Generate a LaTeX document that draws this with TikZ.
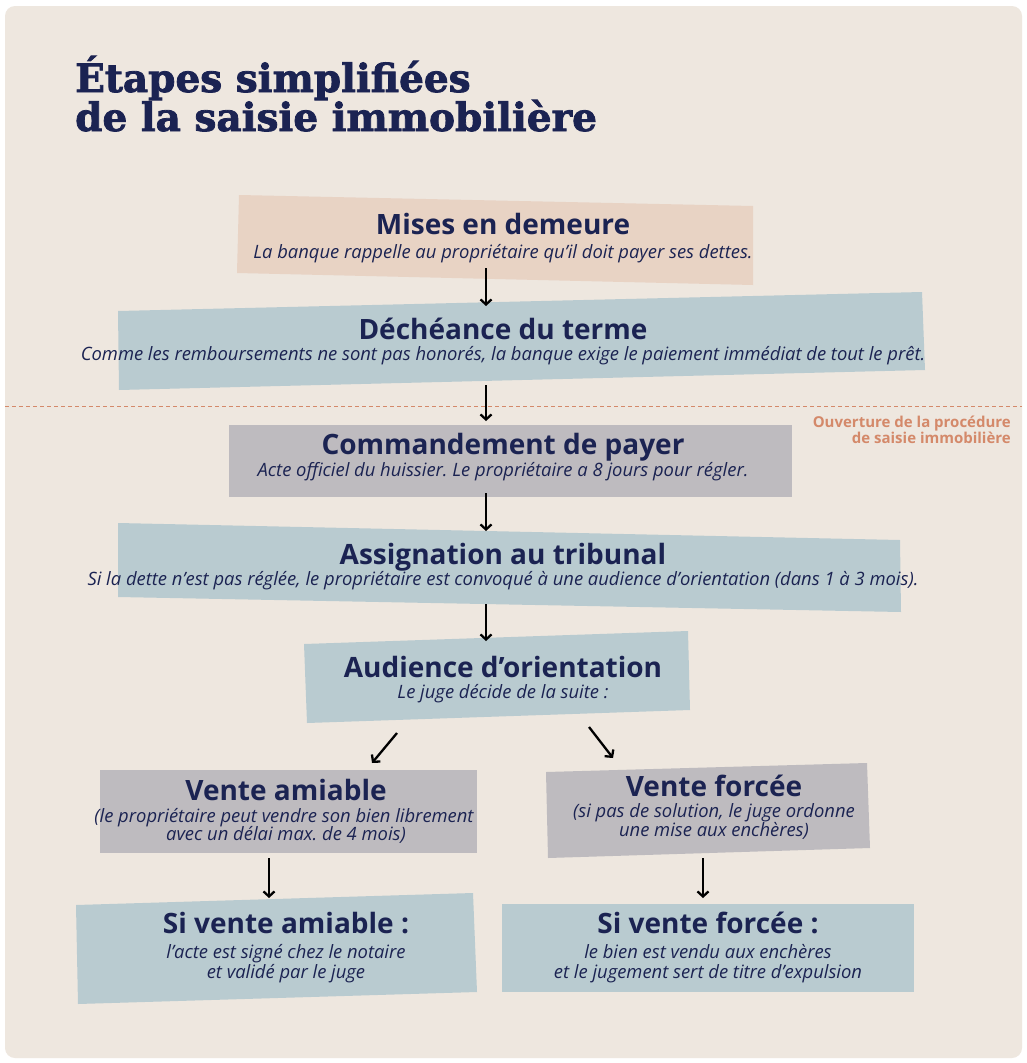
\documentclass[tikz,border=0pt]{standalone}
\usepackage{fontspec}
\setmainfont{Open Sans}
\newfontfamily\titlefont[FakeBold=2]{DejaVu Serif}
\usetikzlibrary{arrows.meta}
\frenchspacing
\definecolor{bgc}{HTML}{EEE7DF}
\definecolor{navy}{HTML}{1B2352}
\definecolor{bluebox}{HTML}{B9CBD0}
\definecolor{pinkbox}{HTML}{E8D3C4}
\definecolor{greybox}{HTML}{BEBBBF}
\definecolor{orng}{HTML}{D4896A}
\tikzset{
  hd/.style={anchor=base, text=navy, font=\bfseries\fontsize{28}{32}\selectfont, inner sep=0pt},
  sb/.style={anchor=base, text=navy, font=\itshape\fontsize{18.4}{22}\selectfont, inner sep=0pt},
  ttl/.style={anchor=base west, text=navy, font=\titlefont\bfseries\fontsize{39}{43}\selectfont, inner sep=0pt},
  arr/.style={draw=black, line width=2.3pt, -{Straight Barb[length=5pt,width=11pt,line width=2.3pt]}},
}
\begin{document}
\begin{tikzpicture}[x=1pt,y=-1pt]
\useasboundingbox (0,0) rectangle (1027,1063);
\fill[white] (0,0) rectangle (1027,1063);
\fill[bgc, rounded corners=10pt] (5,6) rectangle (1022,1058);
% title
\node[ttl] (ti1) at (75,92) {Étapes simplifiées};
\node[ttl] (ti2) at (75,131) {de la saisie immobilière};
% boxes
\fill[pinkbox] (239,195) -- (753,206) -- (753,285) -- (237,273) -- cycle;
\fill[bluebox] (118,311) -- (922,292) -- (925,370) -- (119,390) -- cycle;
\fill[greybox] (229,425) -- (792,425) -- (792,497) -- (229,497) -- cycle;
\fill[bluebox] (118,523) -- (900,540) -- (901,612) -- (118,597) -- cycle;
\fill[bluebox] (304,644) -- (688,631) -- (690,710) -- (307,723) -- cycle;
\fill[greybox] (100,770) -- (477,770) -- (477,853) -- (100,853) -- cycle;
\fill[greybox] (546,772) -- (867,763) -- (870,848) -- (548,858) -- cycle;
\fill[bluebox] (76,905) -- (473,893) -- (477,992) -- (78,1004) -- cycle;
\fill[bluebox] (502,904) -- (914,904) -- (914,992) -- (502,992) -- cycle;
% dashed separator
\coordinate (dl) at (5,406);
\coordinate (dr) at (1022,406);
\draw[orng, line width=0.9pt, dash pattern=on 4pt off 3pt] (dl) -- (dr);
\node[anchor=base east, align=right, text=orng, font=\bfseries\fontsize{15}{16}\selectfont, inner sep=0pt] (ouv) at (1011,443) {Ouverture de la procédure\\de saisie immobilière};
% texts
\node[hd] (t1) at (503,234) {Mises en demeure};
\node[sb] (s1) at (503,258) {La banque rappelle au propriétaire qu’il doit payer ses dettes.};
\node[hd] (t2) at (503,339) {Déchéance du terme};
\node[sb] (s2) at (503,360) {Comme les remboursements ne sont pas honorés, la banque exige le paiement immédiat de tout le prêt.};
\node[hd] (t3) at (503,454) {Commandement de payer};
\node[sb] (s3) at (503,476) {Acte officiel du huissier. Le propriétaire a 8 jours pour régler.};
\node[hd] (t4) at (503,564) {Assignation au tribunal};
\node[sb] (s4) at (503,585) {Si la dette n’est pas réglée, le propriétaire est convoqué à une audience d’orientation (dans 1 à 3 mois).};
\node[hd] (t5) at (503,677) {Audience d’orientation};
\node[sb] (s5) at (503,698) {Le juge décide de la suite :};
\node[hd] (t6) at (286,800) {Vente amiable};
\node[sb] (s6a) at (284,822) {(le propriétaire peut vendre son bien librement};
\node[sb] (s6b) at (286,840) {avec un délai max. de 4 mois)};
\node[hd] (t7) at (714,796) {Vente forcée};
\node[sb] (s7a) at (714,817) {(si pas de solution, le juge ordonne};
\node[sb] (s7b) at (714,836) {une mise aux enchères)};
\node[hd] (t8) at (286,933) {Si vente amiable :};
\node[sb] (s8a) at (286,958) {l’acte est signé chez le notaire};
\node[sb] (s8b) at (286,978) {et validé par le juge};
\node[hd] (t9) at (708,933) {Si vente forcée :};
\node[sb] (s9a) at (708,958) {le bien est vendu aux enchères};
\node[sb] (s9b) at (708,978) {et le jugement sert de titre d’expulsion};
% arrows
\coordinate (a1s) at (486,268); \coordinate (a1e) at (486,306);
\coordinate (a2s) at (486,385); \coordinate (a2e) at (486,421);
\coordinate (a3s) at (486,493); \coordinate (a3e) at (486,531);
\coordinate (a4s) at (486,604); \coordinate (a4e) at (486,641);
\coordinate (a5s) at (397,733); \coordinate (a5e) at (372,763);
\coordinate (a6s) at (589,727); \coordinate (a6e) at (613,758);
\coordinate (a7s) at (269,858); \coordinate (a7e) at (269,898);
\coordinate (a8s) at (703,858); \coordinate (a8e) at (703,898);
\foreach \i in {1,...,8} \draw[arr] (a\i s) -- (a\i e);
\end{tikzpicture}
\end{document}
